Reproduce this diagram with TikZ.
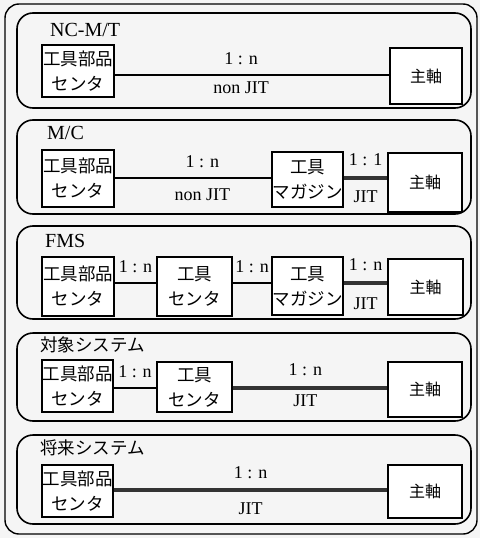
\documentclass[tikz,border=0pt]{standalone}
\usepackage{fontspec}
\setmainfont{Liberation Serif}
\newfontfamily\jp{Noto Sans CJK JP}
\begin{document}
\begin{tikzpicture}[x=1pt,y=-1pt,
  box/.style={draw, line width=1.7pt, fill=white, align=center, inner sep=0pt,
    font=\jp\fontsize{17.5}{25}\selectfont},
  spindle/.style={box, font=\jp\fontsize{16}{20}\selectfont},
  panel/.style={draw, line width=1.6pt, rounded corners=16pt},
  frame/.style={draw, line width=1.4pt, rounded corners=14pt},
  title/.style={anchor=west, inner sep=0pt, font=\fontsize{20}{24}\selectfont},
  jtitle/.style={anchor=west, inner sep=0pt, font=\jp\fontsize{17.5}{20}\selectfont},
  conn/.style={line width=1.5pt},
  jit/.style={line width=4.5pt, black!80},
  lab/.style={inner sep=0pt, text=black, font=\fontsize{18}{20}\selectfont},
  up/.style={lab, above=9.5pt}]
\useasboundingbox (0,0) rectangle (480,538);
\fill[black!4] (0,0) rectangle (480,538);
\draw[frame] (5,4) rectangle (477,534);

% panels
\draw[panel] (17,13) rectangle (471,108);
\draw[panel] (17,120) rectangle (471,214);
\draw[panel] (17,226) rectangle (471,319);
\draw[panel] (17,333) rectangle (471,421);
\draw[panel] (17,435) rectangle (471,524);

% titles
\node[title] (t1) at (50,30) {NC-M/T};
\node[title] (t2) at (47,133) {M/C};
\node[title] (t3) at (45,241) {FMS};
\node[jtitle] (t4) at (40,345) {対象システム};
\node[jtitle] (t5) at (40,448) {将来システム};

% line levels
\coordinate (L1) at (0,75);
\coordinate (L2) at (0,178);
\coordinate (L3) at (0,283);
\coordinate (L4) at (0,388);
\coordinate (L5) at (0,490);

% panel 1
\node[box, minimum width=72pt, minimum height=52pt] (A1) at (78,71) {工具部品\\センタ};
\node[spindle, minimum width=72pt, minimum height=56pt] (S1) at (426,76) {主軸};
\draw[conn] (A1.east |- L1) -- node[up,pos=.46]{1 : n} node[lab,below=6pt,pos=.46]{non JIT} (S1.west |- L1);

% panel 2
\node[box, minimum width=72pt, minimum height=57pt] (A2) at (78,178.5) {工具部品\\センタ};
\node[box, minimum width=71pt, minimum height=55pt] (M2) at (307.5,179.5) {工具\\マガジン};
\node[spindle, minimum width=74pt, minimum height=59pt] (S2) at (425,182.5) {主軸};
\draw[conn] (A2.east |- L2) -- node[up,pos=.56]{1 : n} node[lab,below=10pt,pos=.56]{non JIT} (M2.west |- L2);
\draw[jit] (M2.east |- L2) -- node[up]{1 : 1} node[lab,below=10pt]{JIT} (S2.west |- L2);

% panel 3
\node[box, minimum width=72pt, minimum height=59pt] (A3) at (78,286.5) {工具部品\\センタ};
\node[box, minimum width=75pt, minimum height=59pt] (C3) at (194.5,286.5) {工具\\センタ};
\node[box, minimum width=71pt, minimum height=58pt] (M3) at (307.5,286) {工具\\マガジン};
\node[spindle, minimum width=75pt, minimum height=56pt] (S3) at (425.5,287) {主軸};
\draw[conn] (A3.east |- L3) -- node[up]{1 : n} (C3.west |- L3);
\draw[conn] (C3.east |- L3) -- node[up]{1 : n} (M3.west |- L3);
\draw[jit] (M3.east |- L3) -- node[up]{1 : n} node[lab,below=12pt]{JIT} (S3.west |- L3);

% panel 4
\node[box, minimum width=71pt, minimum height=52pt] (A4) at (77.5,386) {工具部品\\センタ};
\node[box, minimum width=75pt, minimum height=50pt] (C4) at (194.5,387) {工具\\センタ};
\node[spindle, minimum width=74pt, minimum height=55pt] (S4) at (425,389.5) {主軸};
\draw[conn] (A4.east |- L4) -- node[up]{1 : n} (C4.west |- L4);
\draw[jit] (C4.east |- L4) -- node[up,pos=.47]{1 : n} node[lab,pos=.47,below=4pt]{JIT} (S4.west |- L4);

% panel 5
\node[box, minimum width=71pt, minimum height=52pt] (A5) at (77.5,491) {工具部品\\センタ};
\node[spindle, minimum width=74pt, minimum height=53pt] (S5) at (425,491.5) {主軸};
\draw[jit] (A5.east |- L5) -- node[up]{1 : n} node[lab,below=10pt]{JIT} (S5.west |- L5);
\end{tikzpicture}
\end{document}
